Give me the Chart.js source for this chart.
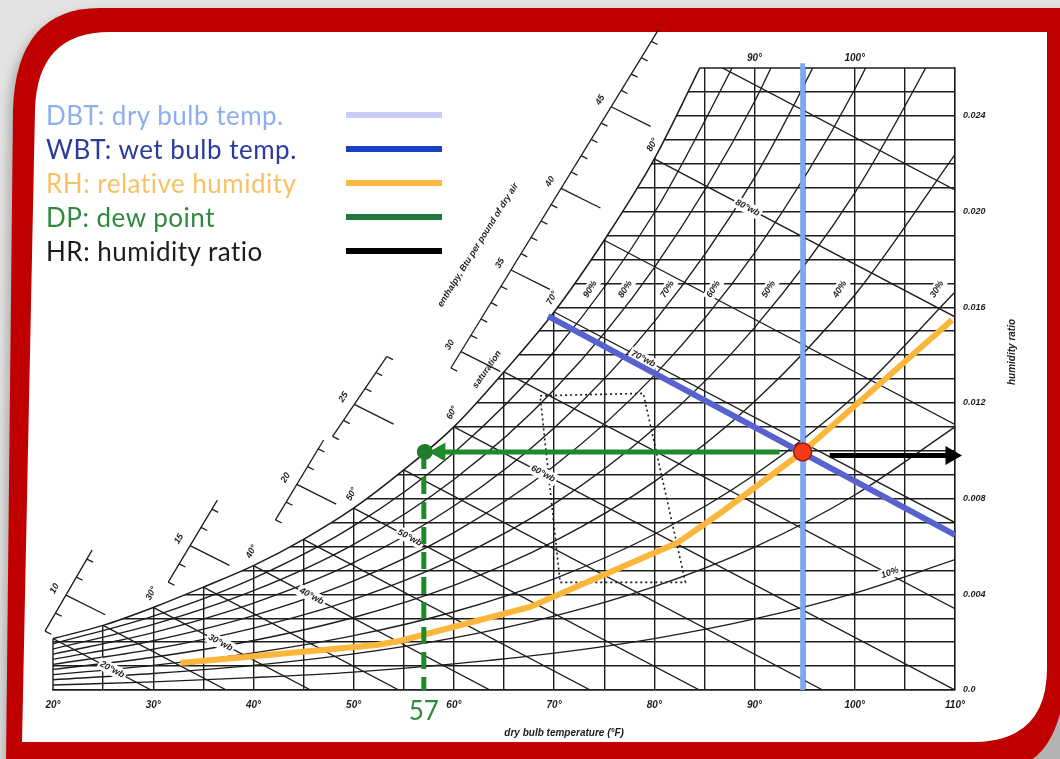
<!DOCTYPE html>
<html>
<head>
<meta charset="utf-8">
<title>Psychrometric chart</title>
<script src="https://cdn.jsdelivr.net/npm/chart.js@4.4.1/dist/chart.umd.min.js"></script>
<style>
  html, body { margin: 0; padding: 0; }
  body { width: 1060px; height: 759px; overflow: hidden; position: relative; background: #e3e3e3; }
  #frame, #psy { position: absolute; left: 0; top: 0; }
  #legend { position: absolute; left: 46px; top: 98px; font-family: Lato, "Noto Sans", sans-serif; font-size: 26px; letter-spacing: 0.5px; }
  #legend div { position: relative; height: 34px; line-height: 34px; width: 400px; white-space: nowrap; }
  #legend i { position: absolute; left: 300px; top: 14px; width: 96px; height: 6px; }
</style>
</head>
<body>
<svg id="frame" width="1060" height="759">
  <defs><filter id="blur"><feGaussianBlur stdDeviation="5"/></filter></defs>
  <path d="M 100,12 L 1075,12 L 1075,775 L 2,775 L 8,112 Q 12,12 100,12 Z" fill="#8c8c8c" opacity="0.55" filter="url(#blur)"/>
  <path d="M 100,8 L 1070,8 L 1070,640 Q 1066,752 1020,765 L 6,765 L 13,110 Q 16,8 100,8 Z" fill="#c00000"/>
  <path d="M 110,32 L 1047,32 L 1047,668 Q 1047,742 972,742 L 22,742 L 35,110 Q 37,32 110,32 Z" fill="#ffffff"/>
</svg>
<canvas id="psy" width="1060" height="759"></canvas>
<div id="legend">
  <div style="color:#8eaef2">DBT: dry bulb temp.<i style="background:#c9ccf5"></i></div>
  <div style="color:#2a3b9d">WBT: wet bulb temp.<i style="background:#1c3fc1"></i></div>
  <div style="color:#f7c265">RH: relative humidity<i style="background:#fdb941"></i></div>
  <div style="color:#2f8a40">DP: dew point<i style="background:#1d7a3c"></i></div>
  <div style="color:#1c1c1c">HR: humidity ratio<i style="background:#000"></i></div>
</div>
<script>
// axis labels
var xTickLabels = ["20°", "30°", "40°", "50°", "60°", "70°", "80°", "90°", "100°", "110°"];
var topTickTemps = [90, 100];
var yTickLabels = ["0.0", "0.004", "0.008", "0.012", "0.016", "0.020", "0.024"];

// saturation curve (dry bulb °F, humidity ratio)
var satTemps = [20, 25, 30, 35, 40, 45, 50, 55, 60, 65, 70, 75, 80, 85];
var satRatio = [0.00215, 0.0027, 0.00345, 0.0043, 0.0052, 0.0063, 0.0076, 0.0092, 0.011, 0.0133, 0.0158, 0.0188, 0.0222, 0.0264];
var satLabelTemps = [30, 40, 50, 60, 70, 80];

// relative humidity curves
var rhTemps = [20, 30, 40, 50, 60, 70, 80, 90, 100, 110];
var rh90 = [0.00193, 0.00309, 0.00467, 0.00686, 0.00992, 0.01415, 0.01995, 0.02781];
var rh80 = [0.00171, 0.00274, 0.00415, 0.00609, 0.0088, 0.01255, 0.01766, 0.0246, 0.03393];
var rh70 = [0.0015, 0.0024, 0.00363, 0.00532, 0.00769, 0.01095, 0.0154, 0.02142, 0.02949];
var rh60 = [0.00128, 0.00206, 0.00311, 0.00456, 0.00658, 0.00936, 0.01315, 0.01827, 0.02511, 0.0342];
var rh50 = [0.00107, 0.00171, 0.00259, 0.00379, 0.00547, 0.00778, 0.01093, 0.01515, 0.02078, 0.02824];
var rh40 = [0.00086, 0.00137, 0.00207, 0.00303, 0.00437, 0.00621, 0.00871, 0.01206, 0.01651, 0.02238];
var rh30 = [0.00064, 0.00103, 0.00155, 0.00227, 0.00327, 0.00465, 0.00651, 0.009, 0.0123, 0.01664];
var rh20 = [0.00043, 0.00069, 0.00103, 0.00151, 0.00218, 0.00309, 0.00432, 0.00597, 0.00815, 0.011];
var rh10 = [0.00021, 0.00034, 0.00052, 0.00075, 0.00109, 0.00154, 0.00215, 0.00297, 0.00405, 0.00545];
var rhCurves = [rh90, rh80, rh70, rh60, rh50, rh40, rh30, rh20, rh10];
var rhLabels = ["90%", "80%", "70%", "60%", "50%", "40%", "30%", "10%"];
var rhLabelTemps = [73.6, 77.1, 81.3, 85.9, 91.4, 98.5, 108.2, 103.5];
var rhLabelRatio = [0.01675, 0.01675, 0.01675, 0.01675, 0.01675, 0.01675, 0.01675, 0.0049];

// wet bulb lines: start on saturation, end on bottom or right edge
var wbTemps = [20, 25, 30, 35, 40, 45, 50, 55, 60, 65, 70, 75, 80, 85];
var wbEndTemps = [29.8, 37.3, 45.7, 54.5, 63.6, 73.6, 84.5, 96.8, 110, 110, 110, 110, 110, 110];
var wbEndRatio = [0, 0, 0, 0, 0, 0, 0, 0, 0, 0.0034, 0.007, 0.0111, 0.0156, 0.0209];
var wbLabels = ["20°wb", "30°wb", "40°wb", "50°wb", "60°wb", "70°wb", "80°wb"];
var wbLabelTemps = [25.9, 36.7, 45.8, 55.6, 68.9, 78.9, 89.3];

// comfort zone (dotted)
var comfortTemps = [68.6, 78.9, 83.1, 70.6, 68.6];
var comfortRatio = [0.0123, 0.0124, 0.0045, 0.0045, 0.0123];

// highlighted reading
var dbtValue = 94.8;
var wbtTemps = [69.4, 110];
var wbtRatio = [0.01563, 0.00648];
var rhTraceTemps = [32.7, 52.3, 54.6, 67.6, 82.3, 86.6, 94.8, 109.7];
var rhTraceRatio = [0.00113, 0.00188, 0.00205, 0.00347, 0.00615, 0.0074, 0.00995, 0.01547];
var pointTemp = 94.8, pointRatio = 0.00995;
var dewPoint = 57;
var dpArrowTemps = [92.5, 58.6];
var hrArrowTemps = [97.5, 109.6];
var hrRatio = 0.0098;

// enthalpy scale pieces: [h from, h to, start (°F, w), end (°F, w)]
var enthalpySegments = [
    [8, 12.5, [19.2, 0.00246], [23.9, 0.00585]],
    [13, 17.5, [31.5, 0.00451], [36.4, 0.00794]],
    [18, 22.5, [42.2, 0.00711], [47.0, 0.01045]],
    [23, 28, [47.9, 0.0106], [53.3, 0.01394]],
    [29, 49.7, [59.7, 0.01346], [80.4, 0.02759]],
];

var ink = "#1c1c1c";
var labelFont = "italic bold 9px 'Liberation Sans', sans-serif";
var axisFont = "italic bold 10px 'Liberation Sans', sans-serif";

function pts(xs, ys) {
    var out = [];
    for (var i = 0; i < xs.length && i < ys.length; i++) out.push({ x: xs[i], y: ys[i] });
    return out;
}
function satAt(t) {
    for (var i = 1; i < satTemps.length; i++) {
        if (t <= satTemps[i]) {
            var f = (t - satTemps[i - 1]) / (satTemps[i] - satTemps[i - 1]);
            return satRatio[i - 1] + f * (satRatio[i] - satRatio[i - 1]);
        }
    }
    return satRatio[satRatio.length - 1];
}

var datasets = [
    { label: "state point", data: [{ x: pointTemp, y: pointRatio }], pointRadius: 9, pointBackgroundColor: "#f23c17", pointBorderColor: "#9c1c0c", pointBorderWidth: 1.5, order: 0 },
    { label: "dew point", data: [{ x: dewPoint + 0.1, y: pointRatio }], pointRadius: 8, pointBackgroundColor: "#1e7d2b", pointBorderWidth: 0, order: 0 },
    { label: "HR", data: pts(hrArrowTemps, [hrRatio, hrRatio]), showLine: true, borderColor: "#000", borderWidth: 5, pointStyle: "triangle", pointRadius: [0, 11], pointRotation: [0, 90], pointBackgroundColor: "#000", pointBorderWidth: 0, clip: false, order: 1 },
    { label: "DP", data: pts(dpArrowTemps, [pointRatio, pointRatio]), showLine: true, borderColor: "#1f8a2c", borderWidth: 5, pointStyle: "triangle", pointRadius: [0, 11], pointRotation: [0, -90], pointBackgroundColor: "#1f8a2c", pointBorderWidth: 0, order: 1 },
    { label: "DP drop", data: pts([dewPoint, dewPoint], [pointRatio, 0]), showLine: true, borderColor: "#1f8a2c", borderWidth: 5, borderDash: [17, 8], pointRadius: 0, order: 1 },
    { label: "WBT", data: pts(wbtTemps, wbtRatio), showLine: true, borderColor: "#5862cf", borderWidth: 6, pointRadius: 0, order: 2 },
    { label: "RH", data: pts(rhTraceTemps, rhTraceRatio), showLine: true, borderColor: "#fbb63c", borderWidth: 6, pointRadius: 0, order: 2 },
    { label: "DBT", data: pts([dbtValue, dbtValue], [0, 0.0262]), showLine: true, borderColor: "#7fa7f6", borderWidth: 5, pointRadius: 0, clip: false, order: 2 },
    { label: "comfort", data: pts(comfortTemps, comfortRatio), showLine: true, borderColor: ink, borderWidth: 1.6, borderDash: [2, 3], pointRadius: 0, order: 4 },
];
var comfortIndex = datasets.length - 1;

rhCurves.forEach(function (curve) {
    datasets.push({ data: pts(rhTemps, curve), showLine: true, borderColor: ink, borderWidth: 1.35, pointRadius: 0, cubicInterpolationMode: "monotone", order: 5 });
});
wbTemps.forEach(function (t, i) {
    datasets.push({ data: pts([t, wbEndTemps[i]], [satRatio[i], wbEndRatio[i]]), showLine: true, borderColor: ink, borderWidth: 1.35, pointRadius: 0, order: 5 });
});
// the pieces of the 20°F line and the top edge that stay below the saturation curve
datasets.push({ data: pts([20, 20], [0, satRatio[0]]), showLine: true, borderColor: ink, borderWidth: 1.4, pointRadius: 0, clip: 2, order: 5 });
datasets.push({ data: pts([84.5, 110], [0.026, 0.026]), showLine: true, borderColor: ink, borderWidth: 1.4, pointRadius: 0, clip: 2, order: 5 });
datasets.push({ label: "saturation", data: pts(satTemps, satRatio), showLine: true, borderColor: ink, borderWidth: 1.5, pointRadius: 0, cubicInterpolationMode: "monotone", fill: "end", backgroundColor: "#ffffff", order: 8 });

function text(ctx, s, x, y, ang, font, color, bg) {
    ctx.save();
    ctx.translate(x, y);
    ctx.rotate((ang * Math.PI) / 180);
    ctx.font = font;
    ctx.textAlign = "center";
    ctx.textBaseline = "middle";
    if (bg) {
        var m = ctx.measureText(s).width;
        ctx.fillStyle = bg;
        ctx.fillRect(-m / 2 - 2, -6, m + 4, 12);
    }
    ctx.fillStyle = color;
    ctx.fillText(s, 0, 0);
    ctx.restore();
}
function seg(ctx, x1, y1, x2, y2) {
    ctx.beginPath();
    ctx.moveTo(x1, y1);
    ctx.lineTo(x2, y2);
    ctx.stroke();
}

var decor = {
    id: "decor",
    afterDatasetDraw: function (chart, args) {
        if (args.index !== comfortIndex) return;
        var ctx = chart.ctx, xs = chart.scales.x, ys = chart.scales.y;
        ctx.save();
        ctx.strokeStyle = ink;
        ctx.lineWidth = 1.3;
        // enthalpy scale
        enthalpySegments.forEach(function (s) {
            var ax = xs.getPixelForValue(s[2][0]), ay = ys.getPixelForValue(s[2][1]);
            var bx = xs.getPixelForValue(s[3][0]), by = ys.getPixelForValue(s[3][1]);
            seg(ctx, ax, ay, bx, by);
            var len = Math.hypot(bx - ax, by - ay), ux = (bx - ax) / len, uy = (by - ay) / len;
            for (var h = Math.ceil(s[0]); h <= s[1]; h++) {
                var f = (h - s[0]) / (s[1] - s[0]), x = ax + f * (bx - ax), y = ay + f * (by - ay);
                var major = h % 5 === 0, L = major ? 44 : 7;
                seg(ctx, x, y, x + 0.894 * L, y + 0.447 * L);
                if (major) text(ctx, String(h), x + uy * 13, y - ux * 13, (Math.atan2(uy, ux) * 180) / Math.PI, labelFont, ink);
            }
        });
        text(ctx, "enthalpy, Btu per pound of dry air", 478, 245, -58, labelFont, ink);
        text(ctx, "saturation", xs.getPixelForValue(63.3), ys.getPixelForValue(0.0134), -55, labelFont, ink);
        // dry bulb labels along saturation
        satLabelTemps.forEach(function (t) {
            text(ctx, t + "°", xs.getPixelForValue(t) - 2, ys.getPixelForValue(satAt(t)) - 14, -62, labelFont, ink, "#fff");
        });
        // relative humidity labels
        rhLabels.forEach(function (s, i) {
            text(ctx, s, xs.getPixelForValue(rhLabelTemps[i]), ys.getPixelForValue(rhLabelRatio[i]), i === 7 ? -20 : -58, labelFont, ink, "#fff");
        });
        // wet bulb labels, sitting on their lines
        wbLabels.forEach(function (s, k) {
            var i = wbTemps.indexOf(20 + 10 * k), t = wbLabelTemps[k];
            var f = (t - wbTemps[i]) / (wbEndTemps[i] - wbTemps[i]);
            var w = satRatio[i] + f * (wbEndRatio[i] - satRatio[i]);
            text(ctx, s, xs.getPixelForValue(t), ys.getPixelForValue(w), 28, labelFont, ink, "#fff");
        });
        ctx.restore();
    },
    afterDraw: function (chart) {
        var ctx = chart.ctx, xs = chart.scales.x, a = chart.chartArea;
        topTickTemps.forEach(function (t) {
            text(ctx, t + "°", xs.getPixelForValue(t), a.top - 10, 0, axisFont, ink);
        });
        text(ctx, "humidity ratio", a.right + 57, 352, -90, axisFont, ink);
        text(ctx, "dry bulb temperature (°F)", xs.getPixelForValue(71), a.bottom + 43, 0, axisFont, ink);
        text(ctx, String(dewPoint), xs.getPixelForValue(dewPoint), a.bottom + 22, 0, "26px Lato, sans-serif", "#2e8b3c");
    },
};

new Chart(document.getElementById("psy"), {
    type: "scatter",
    data: { datasets: datasets },
    options: {
        responsive: false,
        animation: false,
        events: [],
        layout: { padding: { left: 53, top: 68, right: 35, bottom: 14 } },
        plugins: { legend: { display: false }, tooltip: { enabled: false } },
        scales: {
            x: {
                type: "linear",
                min: 20,
                max: 110,
                afterFit: function (s) { s.height = 55; },
                ticks: {
                    stepSize: 5,
                    autoSkip: false,
                    maxRotation: 0,
                    padding: 9,
                    color: ink,
                    font: { family: "'Liberation Sans', sans-serif", size: 10, style: "italic", weight: "bold" },
                    callback: function (v) { return v % 10 === 0 ? xTickLabels[(v - 20) / 10] : ""; },
                },
                grid: {
                    color: function (c) { return c.tick && c.tick.value === 20 ? "rgba(0,0,0,0)" : ink; },
                    lineWidth: 1.4,
                    drawTicks: false,
                },
                border: { color: ink, width: 1.4 },
            },
            y: {
                type: "linear",
                position: "right",
                min: 0,
                max: 0.026,
                afterFit: function (s) { s.width = 70; },
                ticks: {
                    stepSize: 0.001,
                    autoSkip: false,
                    padding: 8,
                    color: ink,
                    font: { family: "'Liberation Sans', sans-serif", size: 9, style: "italic", weight: "bold" },
                    callback: function (v, i) { return i % 4 === 0 ? yTickLabels[i / 4] : ""; },
                },
                grid: {
                    color: function (c) { return c.tick && c.tick.value > 0.0255 ? "rgba(0,0,0,0)" : ink; },
                    lineWidth: 1.4,
                    drawTicks: false,
                },
                border: { color: ink, width: 1.4 },
            },
        },
    },
    plugins: [decor],
});
</script>
</body>
</html>
